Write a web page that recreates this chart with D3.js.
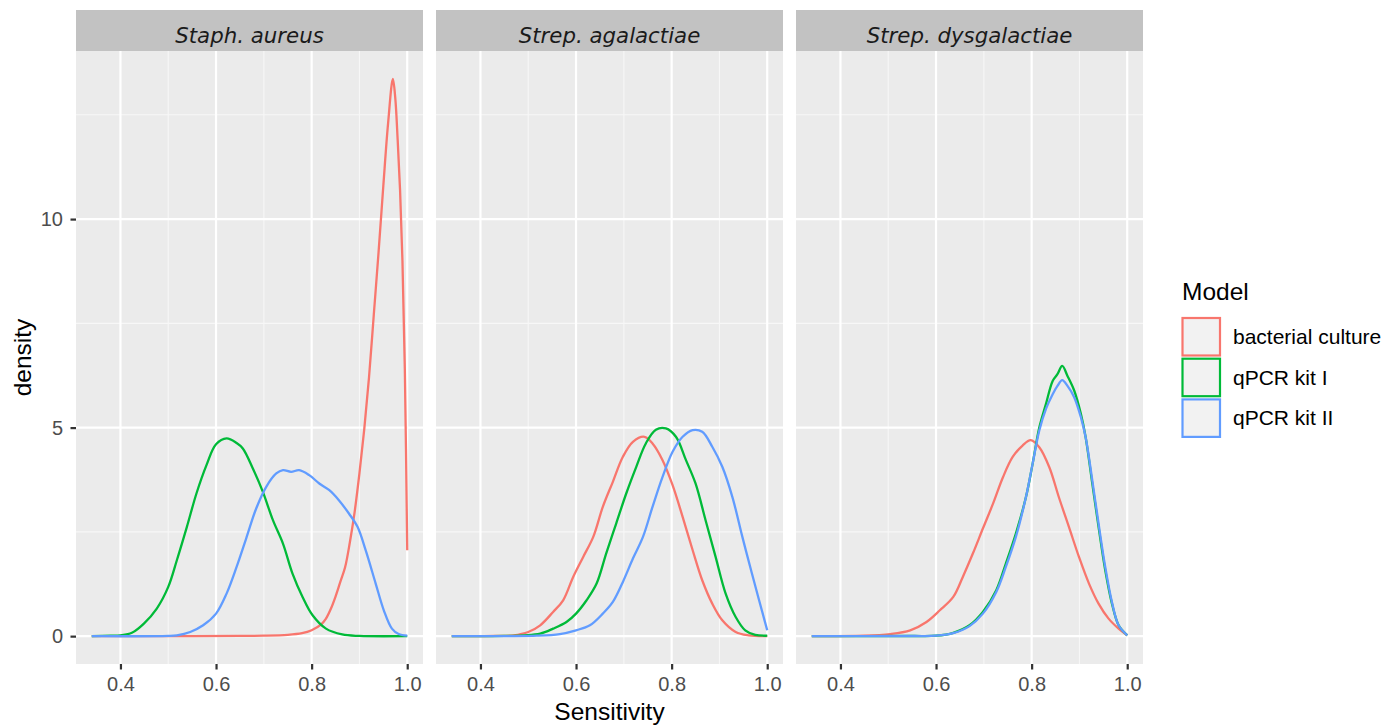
<!DOCTYPE html>
<html><head><meta charset="utf-8">
<script src="https://cdn.jsdelivr.net/npm/d3@7"></script>
<style>body{margin:0;background:#fff}svg{display:block}</style>
</head><body>
<svg id="c" width="1384" height="725"></svg>
<script>
// ---- data ----
const panels = ["Staph. aureus", "Strep. agalactiae", "Strep. dysgalactiae"];
const models = ["bacterial culture", "qPCR kit I", "qPCR kit II"];
const modelColors = ["#F8766D", "#00BA38", "#619CFF"];
const xTicks = [0.4, 0.6, 0.8, 1.0];
const xMinor = [0.5, 0.7, 0.9];
const yTicks = [0, 5, 10];
const yMinor = [2.5, 7.5, 12.5];

const staphCulture = [[0.34,0],[0.5,0],[0.65,0.005],[0.7,0.01],[0.75,0.03],[0.78,0.07],[0.8,0.14],[0.82,0.28],[0.83,0.42],[0.84,0.65],[0.85,0.95],[0.86,1.3],[0.87,1.65],[0.88,2.25],[0.89,2.98],[0.9,3.9],[0.91,4.95],[0.92,6.2],[0.93,7.7],[0.94,9.2],[0.95,10.8],[0.96,12.3],[0.97,13.36],[0.975,12.9],[0.98,11.9],[0.985,10.7],[0.99,9.0],[0.995,6.4],[1.0,2.06]];
const staphKit1 = [[0.34,0],[0.38,0.01],[0.4,0.02],[0.424,0.08],[0.449,0.3],[0.476,0.66],[0.5,1.18],[0.518,1.82],[0.539,2.62],[0.559,3.42],[0.58,4.1],[0.6,4.6],[0.622,4.74],[0.643,4.63],[0.656,4.5],[0.677,4.02],[0.698,3.46],[0.719,2.78],[0.74,2.22],[0.76,1.5],[0.781,0.94],[0.802,0.5],[0.83,0.18],[0.864,0.04],[0.9,0.005],[1.0,0]];
const staphKit2 = [[0.34,0],[0.5,0.005],[0.518,0.02],[0.546,0.1],[0.573,0.26],[0.6,0.54],[0.622,1.02],[0.643,1.66],[0.663,2.34],[0.684,3.06],[0.705,3.58],[0.726,3.9],[0.74,3.98],[0.757,3.94],[0.774,3.98],[0.795,3.86],[0.816,3.66],[0.837,3.5],[0.857,3.26],[0.878,2.94],[0.896,2.62],[0.913,2.06],[0.934,1.26],[0.951,0.62],[0.968,0.18],[0.982,0.05],[1.0,0.01]];

const agalCulture = [[0.34,0],[0.43,0.005],[0.469,0.02],[0.5,0.1],[0.525,0.26],[0.552,0.58],[0.573,0.86],[0.594,1.42],[0.615,1.9],[0.636,2.38],[0.656,3.1],[0.677,3.7],[0.698,4.3],[0.719,4.66],[0.743,4.78],[0.76,4.62],[0.781,4.22],[0.802,3.62],[0.823,2.86],[0.844,2.06],[0.864,1.34],[0.885,0.78],[0.906,0.38],[0.934,0.1],[0.961,0.02],[1.0,0]];
const agalKit1 = [[0.34,0],[0.45,0.005],[0.49,0.02],[0.525,0.06],[0.552,0.18],[0.58,0.34],[0.6,0.54],[0.622,0.86],[0.643,1.26],[0.663,1.98],[0.684,2.7],[0.705,3.42],[0.726,4.06],[0.746,4.62],[0.767,4.95],[0.788,4.98],[0.809,4.78],[0.83,4.22],[0.85,3.66],[0.871,2.78],[0.892,1.9],[0.913,1.02],[0.934,0.46],[0.954,0.14],[0.975,0.03],[1.0,0.01]];
const agalKit2 = [[0.34,0],[0.45,0.002],[0.518,0.01],[0.566,0.05],[0.6,0.14],[0.629,0.26],[0.656,0.54],[0.677,0.82],[0.698,1.3],[0.719,1.86],[0.74,2.38],[0.76,3.1],[0.781,3.82],[0.802,4.42],[0.823,4.78],[0.844,4.94],[0.864,4.9],[0.885,4.54],[0.906,4.06],[0.927,3.34],[0.948,2.38],[0.968,1.5],[1.0,0.14]];

const dysCulture = [[0.34,0],[0.449,0.01],[0.504,0.05],[0.546,0.14],[0.58,0.34],[0.608,0.62],[0.636,0.94],[0.656,1.42],[0.677,1.98],[0.698,2.58],[0.719,3.17],[0.74,3.81],[0.76,4.29],[0.781,4.57],[0.798,4.7],[0.816,4.53],[0.837,4.05],[0.857,3.33],[0.878,2.62],[0.899,1.9],[0.92,1.26],[0.94,0.78],[0.961,0.42],[0.982,0.18],[1.0,0.02]];
const dysKit1 = [[0.34,0],[0.55,0.003],[0.6,0.01],[0.636,0.08],[0.67,0.26],[0.698,0.58],[0.726,1.1],[0.746,1.74],[0.767,2.46],[0.788,3.33],[0.802,4.13],[0.816,5.0],[0.83,5.57],[0.844,6.12],[0.854,6.28],[0.864,6.48],[0.875,6.24],[0.889,5.89],[0.903,5.33],[0.913,4.77],[0.927,3.65],[0.94,2.62],[0.954,1.58],[0.968,0.78],[0.982,0.26],[1.0,0.02]];
const dysKit2 = [[0.34,0],[0.55,0.003],[0.6,0.01],[0.636,0.07],[0.67,0.24],[0.698,0.54],[0.726,1.06],[0.746,1.66],[0.767,2.38],[0.788,3.33],[0.802,4.13],[0.816,4.93],[0.83,5.45],[0.844,5.8],[0.854,6.0],[0.864,6.14],[0.875,6.0],[0.889,5.73],[0.903,5.25],[0.913,4.77],[0.927,3.73],[0.94,2.7],[0.954,1.66],[0.968,0.82],[0.982,0.26],[1.0,0.02]];

const panelSeries = [
  [staphCulture, staphKit1, staphKit2],
  [agalCulture, agalKit1, agalKit2],
  [dysCulture, dysKit1, dysKit2]
];

// ---- layout ----
const svg = d3.select("#c");
svg.append("rect").attr("width",1384).attr("height",725).attr("fill","#fff");
const panelX = [76, 436, 796];
const panelW = 347;
const plotTop = 51, plotBottom = 664, stripTop = 10;
const xDom = [0.34 - 0.033, 1.0 + 0.033];
const yDom = [-0.668, 14.03];
const y = d3.scaleLinear().domain(yDom).range([plotBottom, plotTop]);
const tickFont = "'Liberation Sans', Arial, sans-serif";

panels.forEach((name, pi) => {
  const x0 = panelX[pi];
  const x = d3.scaleLinear().domain(xDom).range([x0, x0 + panelW]);
  const g = svg.append("g");
  g.append("rect").attr("x", x0).attr("y", plotTop).attr("width", panelW).attr("height", plotBottom - plotTop).attr("fill", "#EBEBEB");
  // minor grid
  g.selectAll(".vmin").data(xMinor).enter().append("line")
    .attr("x1", d => x(d)).attr("x2", d => x(d)).attr("y1", plotTop).attr("y2", plotBottom)
    .attr("stroke", "#F7F7F7").attr("stroke-width", 1.1);
  g.selectAll(".hmin").data(yMinor).enter().append("line")
    .attr("y1", d => y(d)).attr("y2", d => y(d)).attr("x1", x0).attr("x2", x0 + panelW)
    .attr("stroke", "#F7F7F7").attr("stroke-width", 1.1);
  // major grid
  g.selectAll(".vmaj").data(xTicks).enter().append("line")
    .attr("x1", d => x(d)).attr("x2", d => x(d)).attr("y1", plotTop).attr("y2", plotBottom)
    .attr("stroke", "#fff").attr("stroke-width", 2.2);
  g.selectAll(".hmaj").data(yTicks).enter().append("line")
    .attr("y1", d => y(d)).attr("y2", d => y(d)).attr("x1", x0).attr("x2", x0 + panelW)
    .attr("stroke", "#fff").attr("stroke-width", 2.2);
  // strip
  g.append("rect").attr("x", x0).attr("y", stripTop).attr("width", panelW).attr("height", plotTop - stripTop).attr("fill", "#C2C2C2");
  g.append("text").attr("x", x0 + panelW / 2).attr("y", 43).attr("text-anchor", "middle")
    .attr("font-family", "'DejaVu Sans', Verdana, sans-serif").attr("font-style", "italic")
    .attr("font-size", 21.3).attr("fill", "#1A1A1A").text(name);
  // lines
  const line = d3.line().x(d => x(d[0])).y(d => y(d[1])).curve(d3.curveCatmullRom.alpha(0.5));
  panelSeries[pi].forEach((s, si) => {
    g.append("path").datum(s).attr("d", line).attr("fill", "none")
      .attr("stroke", modelColors[si]).attr("stroke-width", 2.3).attr("stroke-linejoin", "round");
  });
  // x axis
  const ax = svg.append("g").attr("transform", `translate(0,${plotBottom})`)
    .call(d3.axisBottom(x).tickValues(xTicks).tickFormat(d3.format(".1f")).tickSize(5.5).tickPadding(7));
  ax.select(".domain").remove();
  ax.selectAll("line").attr("stroke", "#333").attr("stroke-width", 2.2);
  ax.selectAll("text").attr("font-family", tickFont).attr("font-size", 20).attr("fill", "#4D4D4D");
});

// y axis
const ay = svg.append("g").attr("transform", `translate(${panelX[0]},0)`)
  .call(d3.axisLeft(y).tickValues(yTicks).tickSize(5.5).tickPadding(7.5));
ay.select(".domain").remove();
ay.selectAll("line").attr("stroke", "#333").attr("stroke-width", 2.2);
ay.selectAll("text").attr("font-family", tickFont).attr("font-size", 20).attr("fill", "#4D4D4D");

// axis titles
svg.append("text").attr("x", (panelX[0] + panelX[2] + panelW) / 2).attr("y", 720).attr("text-anchor", "middle")
  .attr("font-family", tickFont).attr("font-size", 24.5).attr("fill", "#000").text("Sensitivity");
svg.append("text").attr("transform", `translate(31,${(plotTop + plotBottom) / 2}) rotate(-90)`).attr("text-anchor", "middle")
  .attr("font-family", tickFont).attr("font-size", 24.5).attr("fill", "#000").text("density");

// legend
const lg = svg.append("g");
lg.append("text").attr("x", 1182).attr("y", 299.5).attr("font-family", tickFont).attr("font-size", 24.5)
  .attr("fill", "#000").text("Model");
models.forEach((m, i) => {
  const ky = 318 + i * 40.7;
  lg.append("rect").attr("x", 1182.5).attr("y", ky).attr("width", 37.5).attr("height", 37.5)
    .attr("fill", "#F2F2F2").attr("stroke", modelColors[i]).attr("stroke-width", 2.2);
  lg.append("text").attr("x", 1233).attr("y", ky + 18.8 + 7).attr("font-family", tickFont).attr("font-size", 21)
    .attr("fill", "#000").text(m);
});
</script>
</body></html>
